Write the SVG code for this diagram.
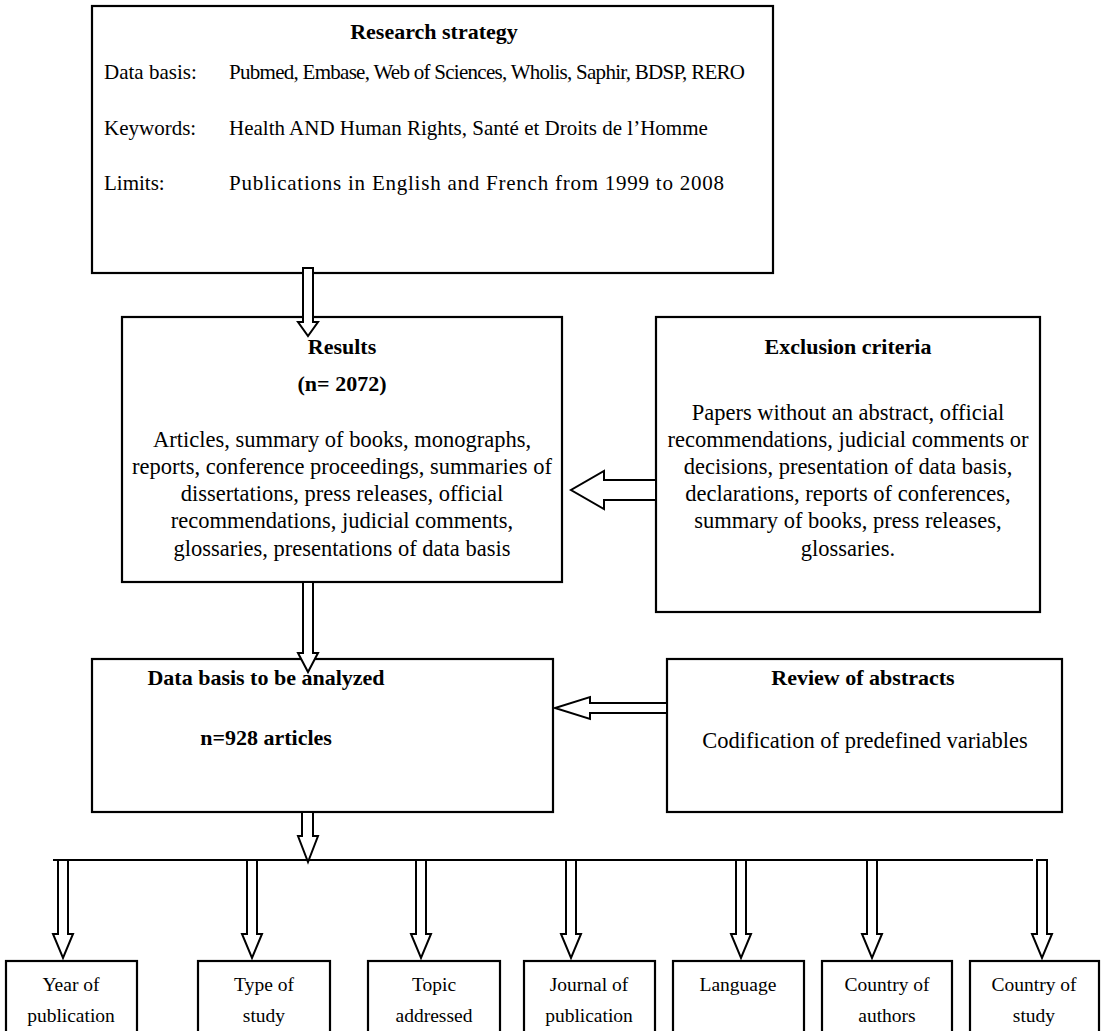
<svg xmlns="http://www.w3.org/2000/svg" width="1107" height="1031" viewBox="0 0 1107 1031">
<style>
.box{fill:#fff;stroke:#000;stroke-width:2.2}
.arr{fill:#fff;stroke:#000;stroke-width:2;stroke-linejoin:miter}
.ln{stroke:#000;stroke-width:2;fill:none}
text{font-family:"Liberation Serif","Times New Roman",serif;fill:#000}
.t{font-size:21px}
.m{font-size:22.5px}
.b{font-size:22px;font-weight:bold}
.c{text-anchor:middle}
.s{font-size:19.5px;text-anchor:middle}
</style>
<rect width="1107" height="1031" fill="#fff"/>
<g id="research-strategy">
<rect class="box" x="92" y="6" width="681" height="267"/>
<text class="b c" x="434" y="39">Research strategy</text>
<text class="t" x="104" y="79">Data basis:</text>
<text class="t" x="229" y="79" textLength="516" lengthAdjust="spacing">Pubmed, Embase, Web of Sciences, Wholis, Saphir, BDSP, RERO</text>
<text class="t" x="104" y="135">Keywords:</text>
<text class="t" x="229" y="135">Health AND Human Rights, Santé et Droits de l’Homme</text>
<text class="t" x="104" y="190">Limits:</text>
<text class="t" x="229" y="190" textLength="495" lengthAdjust="spacing">Publications in English and French from 1999 to 2008</text>
</g>
<g id="results">
<rect class="box" x="122" y="317" width="440" height="265"/>
<text class="b c" x="342" y="354">Results</text>
<text class="b c" x="342" y="391">(n= 2072)</text>
<text class="m c" x="342" y="447">Articles, summary of books, monographs,</text>
<text class="m c" x="342" y="474">reports, conference proceedings, summaries of</text>
<text class="m c" x="342" y="501">dissertations, press releases, official</text>
<text class="m c" x="342" y="528">recommendations, judicial comments,</text>
<text class="m c" x="342" y="556">glossaries, presentations of data basis</text>
</g>
<g id="exclusion-criteria">
<rect class="box" x="656" y="317" width="384" height="295"/>
<text class="b c" x="848" y="354">Exclusion criteria</text>
<text class="m c" x="848" y="420">Papers without an abstract, official</text>
<text class="m c" x="848" y="447">recommendations, judicial comments or</text>
<text class="m c" x="848" y="474">decisions, presentation of data basis,</text>
<text class="m c" x="848" y="501">declarations, reports of conferences,</text>
<text class="m c" x="848" y="528">summary of books, press releases,</text>
<text class="m c" x="848" y="556">glossaries.</text>
</g>
<g id="data-basis">
<rect class="box" x="92" y="659" width="461" height="153"/>
<text class="b c" x="266" y="685">Data basis to be analyzed</text>
<text class="b c" x="266" y="745">n=928 articles</text>
</g>
<g id="review">
<rect class="box" x="667" y="659" width="395" height="153"/>
<text class="b c" x="863" y="685">Review of abstracts</text>
<text class="m c" x="865" y="748">Codification of predefined variables</text>
</g>
<g id="connectors">
<path class="arr" d="M303,268 L313,268 L313,322 L318,322 L308,336 L298,322 L303,322 Z"/>
<path class="arr" d="M656,480 L604,480 L604,471 L571,490 L604,509 L604,500 L656,500 Z"/>
<path class="arr" d="M303,582 L313,582 L313,653 L318,653 L308,672 L298,653 L303,653 Z"/>
<path class="arr" d="M667,703 L590,703 L590,697 L555,708 L590,719 L590,713 L667,713 Z"/>
<path class="arr" d="M302,812 L313,812 L313,836 L318,836 L308,862 L298,836 L302,836 Z"/>
<line class="ln" x1="53" y1="860" x2="1033" y2="860"/>
<path class="arr" d="M58,860 L68,860 L68,934 L73,934 L63,958 L53,934 L58,934 Z"/>
<path class="arr" d="M247,860 L257,860 L257,934 L262,934 L252,958 L242,934 L247,934 Z"/>
<path class="arr" d="M416,860 L426,860 L426,934 L431,934 L421,958 L411,934 L416,934 Z"/>
<path class="arr" d="M566,860 L576,860 L576,934 L581,934 L571,958 L561,934 L566,934 Z"/>
<path class="arr" d="M736,860 L746,860 L746,934 L751,934 L741,958 L731,934 L736,934 Z"/>
<path class="arr" d="M867,860 L877,860 L877,934 L882,934 L872,958 L862,934 L867,934 Z"/>
<path class="arr" d="M1037,860 L1047,860 L1047,934 L1052,934 L1042,958 L1032,934 L1037,934 Z"/>
</g>
<g id="year">
<rect class="box" x="6" y="961" width="131" height="80"/>
<text class="s" x="71" y="991">Year of</text>
<text class="s" x="71" y="1022">publication</text>
</g>
<g id="type">
<rect class="box" x="198" y="961" width="132" height="80"/>
<text class="s" x="264" y="991">Type of</text>
<text class="s" x="264" y="1022">study</text>
</g>
<g id="topic">
<rect class="box" x="368" y="961" width="132" height="80"/>
<text class="s" x="434" y="991">Topic</text>
<text class="s" x="434" y="1022">addressed</text>
</g>
<g id="journal">
<rect class="box" x="524" y="961" width="131" height="80"/>
<text class="s" x="589" y="991">Journal of</text>
<text class="s" x="589" y="1022">publication</text>
</g>
<g id="language">
<rect class="box" x="673" y="961" width="131" height="80"/>
<text class="s" x="738" y="991">Language</text>
</g>
<g id="country-authors">
<rect class="box" x="822" y="961" width="130" height="80"/>
<text class="s" x="887" y="991">Country of</text>
<text class="s" x="887" y="1022">authors</text>
</g>
<g id="country-study">
<rect class="box" x="970" y="961" width="129" height="80"/>
<text class="s" x="1034" y="991">Country of</text>
<text class="s" x="1034" y="1022">study</text>
</g>
</svg>
